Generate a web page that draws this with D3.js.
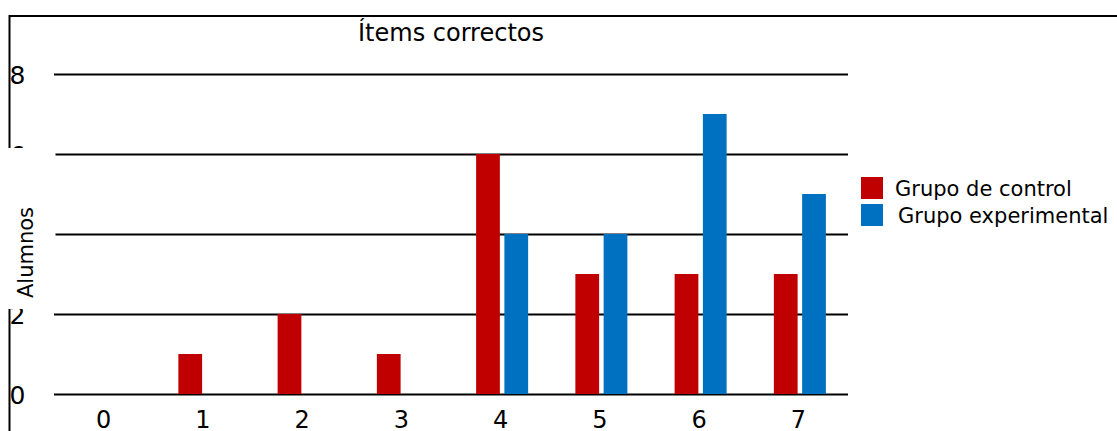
<!DOCTYPE html>
<html>
<head>
<meta charset="utf-8">
<script src="https://cdn.jsdelivr.net/npm/d3@7"></script>
<style>
  html, body { margin: 0; padding: 0; background: #fff; }
  svg { display: block; font-family: "DejaVu Sans", Verdana, sans-serif; }
</style>
</head>
<body>
<svg id="chart" width="1117" height="431"></svg>
<script>
const categories = ["0", "1", "2", "3", "4", "5", "6", "7"];
const seriesNames = ["Grupo de control", "Grupo experimental"];
const controlValues = [0, 1, 2, 1, 6, 3, 3, 3];
const experimentalValues = [0, 0, 0, 0, 4, 4, 7, 5];
const yTicks = [0, 2, 4, 6, 8];
const colors = ["#C00000", "#0070C0"];
const titleText = "Ítems correctos";
const yLabelText = "Alumnos";

const svg = d3.select("#chart");
const plotLeft = 54, plotRight = 848, plotTop = 74, plotBottom = 394;

const x0 = d3.scaleBand().domain(categories).range([plotLeft, plotRight])
  .paddingInner(0.476).paddingOuter(0.238);
const x1 = d3.scaleBand().domain(seriesNames).range([0, x0.bandwidth()]).paddingInner(0.16);
const y = d3.scaleLinear().domain([0, 8]).range([plotBottom, plotTop]);

// frame (top and left)
svg.append("line").attr("x1", 9).attr("x2", 1117).attr("y1", 16).attr("y2", 16)
  .attr("stroke", "#000").attr("stroke-width", 2);
svg.append("line").attr("x1", 9.5).attr("x2", 9.5).attr("y1", 15).attr("y2", 431)
  .attr("stroke", "#000").attr("stroke-width", 2);

// y axis with gridlines
const yAxis = svg.append("g").attr("transform", `translate(${plotLeft},0)`)
  .call(d3.axisLeft(y).tickValues(yTicks).tickSize(-(plotRight - plotLeft)).tickFormat(d3.format("d")));
yAxis.select(".domain").remove();
yAxis.selectAll(".tick line").attr("stroke", "#000").attr("stroke-width", 2);
yAxis.selectAll(".tick text")
  .attr("x", -plotLeft + 9.5).attr("dy", "0.36em").attr("text-anchor", "start")
  .attr("font-size", 25).attr("fill", "#000")
  .style("font-family", "DejaVu Sans, Verdana, sans-serif");

// x axis labels
const xAxis = svg.append("g").attr("transform", `translate(0,${plotBottom})`)
  .call(d3.axisBottom(x0).tickSize(0));
xAxis.select(".domain").remove();
xAxis.selectAll(".tick text")
  .attr("y", 34).attr("dy", 0)
  .attr("font-size", 24).attr("fill", "#000")
  .style("font-family", "DejaVu Sans, Verdana, sans-serif");

// bars
const rows = categories.map((c, i) => ({ cat: c, vals: [controlValues[i], experimentalValues[i]] }));
const groups = svg.append("g").selectAll("g").data(rows).join("g")
  .attr("transform", d => `translate(${x0(d.cat) + 1.5},0)`);
groups.selectAll("rect")
  .data(d => d.vals.map((v, k) => ({ name: seriesNames[k], v, k })))
  .join("rect")
  .attr("x", d => x1(d.name))
  .attr("width", x1.bandwidth())
  .attr("y", d => y(d.v))
  .attr("height", d => y(0) - y(d.v))
  .attr("fill", d => colors[d.k]);

// white box covering part of the left side
svg.append("rect").attr("x", 0).attr("y", 148).attr("width", 55.5).attr("height", 161).attr("fill", "#fff");

// y label
svg.append("text")
  .attr("transform", "translate(32.5,252.5) rotate(-90)")
  .attr("text-anchor", "middle")
  .attr("font-size", 21).attr("fill", "#000")
  .text(yLabelText);

// title
svg.append("text")
  .attr("x", (plotLeft + plotRight) / 2).attr("y", 40.5)
  .attr("text-anchor", "middle")
  .attr("font-size", 24).attr("fill", "#000")
  .text(titleText);

// legend
const legend = svg.append("g").selectAll("g").data(seriesNames).join("g")
  .attr("transform", (d, i) => `translate(861,${177 + i * 27})`);
legend.append("rect").attr("width", 22).attr("height", 22).attr("fill", (d, i) => colors[i]);
legend.append("text")
  .attr("x", (d, i) => i === 0 ? 34 : 37).attr("y", 19)
  .attr("font-size", 21).attr("fill", "#000")
  .text(d => d);
</script>
</body>
</html>
